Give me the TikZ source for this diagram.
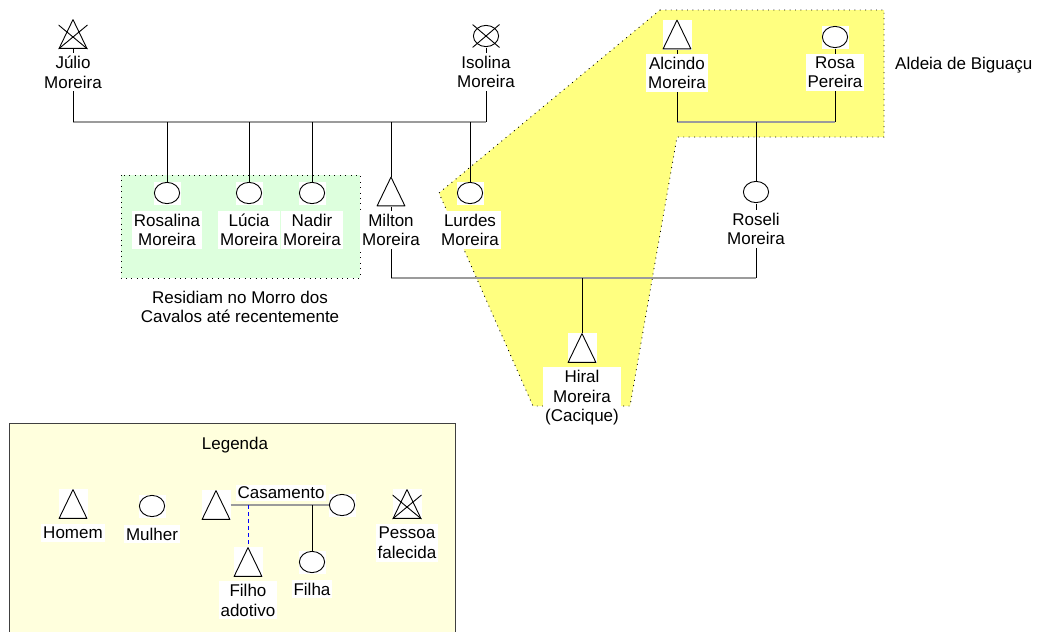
\documentclass[tikz,border=0pt]{standalone}
\usepackage{fontspec}
\setmainfont{Liberation Sans}
\usetikzlibrary{positioning}

\definecolor{amarelo}{RGB}{255,255,128}
\definecolor{verde}{RGB}{221,255,221}
\definecolor{creme}{RGB}{255,255,221}
\definecolor{cinza}{RGB}{155,155,155}

% desenhos dentro dos simbolos
\newcommand{\desenhatri}{\draw[traco, line join=round]
  ([shift={(0.6pt,0.6pt)}]path picture bounding box.south west)
  -- ([yshift=-0.6pt]path picture bounding box.north)
  -- ([shift={(-0.6pt,0.6pt)}]path picture bounding box.south east) -- cycle;}
\newcommand{\desenhacirc}{\draw[traco] (path picture bounding box.center)
  ellipse [x radius=12.6pt, y radius=10.6pt];}
\newcommand{\desenhaxtri}{\draw[traco]
  ([yshift=-6pt]path picture bounding box.north west) -- (path picture bounding box.south east)
  ([yshift=-6pt]path picture bounding box.north east) -- (path picture bounding box.south west);}
\newcommand{\desenhaxcirc}{\draw[traco]
  (path picture bounding box.north west) -- (path picture bounding box.south east)
  (path picture bounding box.north east) -- (path picture bounding box.south west);}

\tikzset{
  traco/.style={line width=0.9pt, black},
  simbolo/.style={rectangle, fill=white, inner sep=0pt, outer sep=0pt},
  homem/.style={simbolo, minimum width=29pt, minimum height=30pt,
    path picture={\desenhatri}},
  mulher/.style={simbolo, minimum width=27pt, minimum height=23pt,
    path picture={\desenhacirc}},
  falecido/.style={simbolo, minimum width=29pt, minimum height=30pt,
    path picture={\desenhatri\desenhaxtri}},
  falecida/.style={simbolo, minimum width=27pt, minimum height=23pt,
    path picture={\desenhacirc\desenhaxcirc}},
  rotulo/.style={fill=white, align=center, inner xsep=2pt, inner ysep=3pt},
  casal/.style={line width=1.2pt, cinza},
  adocao/.style={line width=0.9pt, blue, dash pattern=on 4pt off 3pt},
  area/.style={draw=black, line width=0.9pt, dash pattern=on 0.9pt off 4.5pt}
}

\begin{document}
\begin{tikzpicture}[x=1pt, y=-1pt, font=\fontsize{17}{19.5}\selectfont]
\useasboundingbox (0,0) rectangle (1042,632);

% areas de fundo
\path[area, fill=amarelo] (660,10) -- (884,10) -- (884,137) -- (677,137)
  -- (630,406) -- (533,406) -- (439,193) -- cycle;
\path[area, fill=verde] (121,175) rectangle (360,278);
\path[fill=creme, draw=black!75, line width=0.9pt] (9,423) rectangle (455,650);

% pessoas
\node (julio)    [falecido] at (73,34)    {};
\node (isolina)  [falecida] at (486,36)   {};
\node (alcindo)  [homem]    at (677,34.5) {};
\node (rosa)     [mulher]   at (835,37)   {};
\node (rosalina) [mulher]   at (167,193)  {};
\node (lucia)    [mulher]   at (249,193)  {};
\node (nadir)    [mulher]   at (312,193)  {};
\node (milton)   [homem]    at (391,191.5){};
\node (lurdes)   [mulher]   at (470,193)  {};
\node (roseli)   [mulher]   at (756,192)  {};
\node (hiral)    [homem]    at (582,348)  {};

% legenda
\node (leg-homem)    [homem]    at (73,504)  {};
\node (leg-mulher)   [mulher]   at (152,506) {};
\node (leg-marido)   [homem]    at (216,505) {};
\node (leg-esposa)   [mulher]   at (342,505) {};
\node (leg-adotivo)  [homem]    at (248,562) {};
\node (leg-filha)    [mulher]   at (312,562) {};
\node (leg-falecido) [falecido] at (407,504) {};

% casamentos e filhos
\coordinate (c1) at (280,122);
\coordinate (c2) at (582,278);
\coordinate (c3) at (756,122);

\draw [casal] (julio |- c1) -- (isolina |- c1);
\draw [traco] (julio)   -- (julio |- c1);
\draw [traco] (isolina) -- (isolina |- c1);
\draw [traco] (rosalina |- c1) -- (rosalina);
\draw [traco] (lucia |- c1)    -- (lucia);
\draw [traco] (nadir |- c1)    -- (nadir);
\draw [traco] (milton |- c1)   -- (milton);
\draw [traco] (lurdes |- c1)   -- (lurdes);

\draw [casal] (alcindo |- c3) -- (rosa |- c3);
\draw [traco] (alcindo) -- (alcindo |- c3);
\draw [traco] (rosa)    -- (rosa |- c3);
\draw [traco] (c3)      -- (roseli);

\draw [casal] (milton |- c2) -- (roseli |- c2);
\draw [traco] (milton) -- (milton |- c2);
\draw [traco] (roseli) -- (roseli |- c2);
\draw [traco] (c2)     -- (hiral);

\draw [casal]  (leg-marido) -- (leg-esposa);
\draw [adocao] (leg-adotivo |- leg-marido) -- (leg-adotivo);
\draw [traco]  (leg-filha |- leg-marido)   -- (leg-filha);

% nomes
\node (julio-l)    [rotulo, below=4pt of julio]    {Júlio\\Moreira};
\node (isolina-l)  [rotulo, below=5pt of isolina]  {Isolina\\Moreira};
\node (alcindo-l)  [rotulo, below=4pt of alcindo]  {Alcindo\\Moreira};
\node (rosa-l)     [rotulo, below=5pt of rosa]     {Rosa\\Pereira};
\node (rosalina-l) [rotulo, below=6pt of rosalina] {Rosalina\\Moreira};
\node (lucia-l)    [rotulo, below=6pt of lucia]    {Lúcia\\Moreira};
\node (nadir-l)    [rotulo, below=6pt of nadir]    {Nadir\\Moreira};
\node (milton-l)   [rotulo, below=4pt of milton]   {Milton\\Moreira};
\node (lurdes-l)   [rotulo, below=6pt of lurdes]   {Lurdes\\Moreira};
\node (roseli-l)   [rotulo, below=6pt of roseli]   {Roseli\\Moreira};
\node (hiral-l)    [rotulo, below=4pt of hiral]    {Hiral\\Moreira\\(Cacique)};

\node (residiam) [align=center] at (240,307) {Residiam no Morro dos\\Cavalos até recentemente};
\node (aldeia)   [anchor=west, inner sep=0pt] at (895,65) {Aldeia de Biguaçu};

\node (legenda) at (235,445) {Legenda};
\node (leg-casamento) [rotulo, inner ysep=2pt] at (281,493) {Casamento};
\node (leg-homem-l)    [rotulo, below=5pt of leg-homem]    {Homem};
\node (leg-mulher-l)   [rotulo, below=7pt of leg-mulher]   {Mulher};
\node (leg-adotivo-l)  [rotulo, below=4pt of leg-adotivo]  {Filho\\adotivo};
\node (leg-filha-l)    [rotulo, below=6pt of leg-filha]    {Filha};
\node (leg-falecido-l) [rotulo, below=5pt of leg-falecido] {Pessoa\\falecida};
\end{tikzpicture}
\end{document}
